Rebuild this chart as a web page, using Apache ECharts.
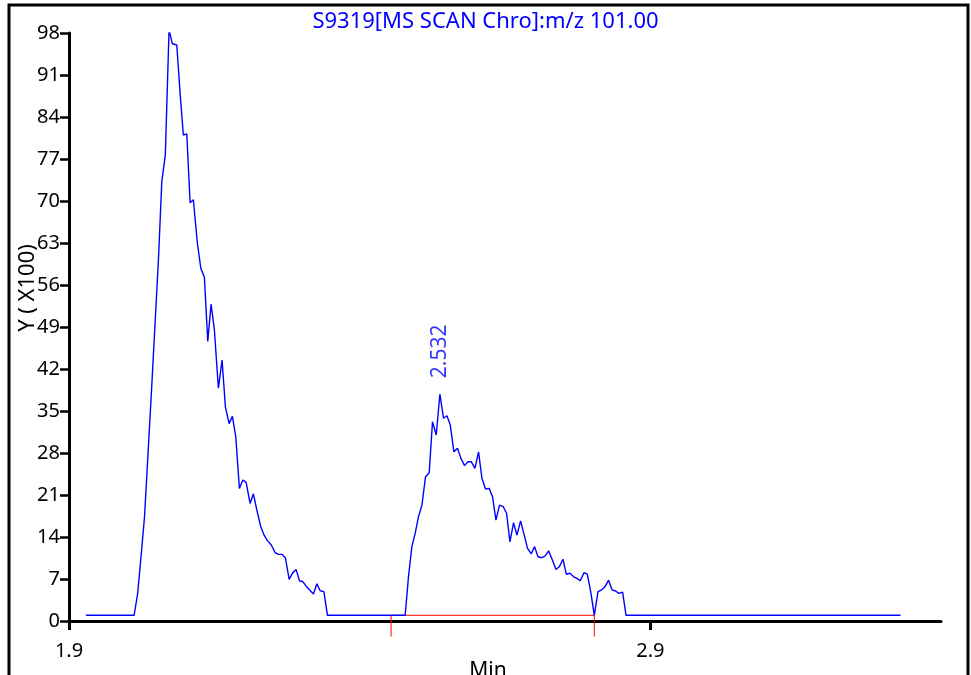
<!DOCTYPE html>
<html>
<head>
<meta charset="utf-8">
<script src="https://cdn.jsdelivr.net/npm/echarts@6/dist/echarts.min.js"></script>
<style>
html,body{margin:0;padding:0;background:#fff;}
#chart{width:971px;height:675px;}
</style>
</head>
<body>
<div id="chart"></div>
<script>
// ---- data (time in min, intensity in x100 units) ----
const scanTimes = [
  1.929, 2.012, 2.018, 2.024, 2.030, 2.036, 2.042, 2.048, 2.054, 2.0596,
  2.0657, 2.0721, 2.0778, 2.0854, 2.0911, 2.0967, 2.1026, 2.1083, 2.1139, 2.1208,
  2.1267, 2.1329, 2.1387, 2.1444, 2.1501, 2.1570, 2.1633, 2.1690, 2.1754, 2.1811,
  2.1869, 2.1931, 2.1990, 2.2047, 2.2115, 2.2172, 2.2231, 2.2299, 2.2356, 2.2413,
  2.2477, 2.2546, 2.2602, 2.2666, 2.2723, 2.2787, 2.2850, 2.2907, 2.2964, 2.3022,
  2.3079, 2.3136, 2.3205, 2.3263, 2.3320, 2.3384, 2.3446,
  2.4783, 2.4840, 2.4898, 2.4955, 2.5012, 2.5071, 2.5133, 2.5196, 2.5253, 2.5317,
  2.5380, 2.5442, 2.5501, 2.5558, 2.5621, 2.5683, 2.5742, 2.5804, 2.5862, 2.5919,
  2.5983, 2.6045, 2.6103, 2.6165, 2.6229, 2.6286, 2.6344, 2.6406, 2.6470, 2.6527,
  2.6585, 2.6647, 2.6706, 2.6768, 2.6831, 2.6888, 2.6952, 2.7009, 2.7067, 2.7129,
  2.7188, 2.7250, 2.7313, 2.7377, 2.7434, 2.7497, 2.7554, 2.7618, 2.7675, 2.7738,
  2.7795, 2.7859, 2.7916, 2.7979, 2.8036, 2.8100, 2.8162, 2.8220, 2.8282, 2.8341,
  2.8403, 2.8461, 2.8523, 2.8582, 3.3303
];
const intensities = [
  0.95, 0.95, 4.5, 10.8, 17.5, 28, 38.5, 49.5, 60.5, 73.2,
  77.7, 98.5, 96.2, 96.0, 88.0, 81.0, 81.2, 69.7, 70.2, 63.0,
  58.8, 57.3, 46.6, 52.8, 48.5, 38.8, 43.5, 35.7, 32.9, 34.1,
  30.7, 22.1, 23.5, 23.1, 19.6, 21.2, 18.5, 15.7, 14.3, 13.4,
  12.7, 11.4, 11.1, 11.1, 10.5, 6.95, 8.05, 8.6, 6.7, 6.55,
  5.8, 5.2, 4.5, 6.2, 5.05, 4.9, 0.95,
  0.95, 7.4, 12.4, 14.6, 17.4, 19.3, 24.05, 24.7, 33.2, 31.0,
  37.8, 33.8, 34.2, 32.7, 28.2, 28.8, 27.1, 25.9, 26.55, 26.55,
  25.45, 28.2, 23.8, 22.0, 22.1, 20.7, 16.8, 19.3, 19.05, 17.95,
  13.2, 16.4, 14.3, 16.7, 14.3, 12.1, 11.2, 12.4, 10.7, 10.55,
  10.8, 11.7, 10.2, 8.6, 9.05, 10.3, 7.8, 7.95, 7.4, 7.1,
  6.7, 8.05, 7.8, 4.6, 0.95, 4.9, 5.2, 5.7, 6.8, 5.2,
  5.0, 4.6, 4.8, 0.95, 0.95
];
// integration baseline of the labelled peak (start / end times and level)
const baselineTimes = [2.454, 2.8036];
const baselineLevel = 0.95;
const baselineTickDepth = -2.6;
// labelled peak
const peakLabelText = '2.532';
const peakWindow = [2.454, 2.8036];
// axis ticks
const xTickValues = [1.9, 2.9];
const yMin = 0, yMax = 98, yStep = 7;
const xMin = 1.9, xMax = 3.4;

const titleText = 'S9319[MS SCAN Chro]:m/z 101.00';
const yName = 'Y ( X100)';
const xName = 'Min';

// ---- build ----
const traceData = scanTimes.map((t, i) => [t, intensities[i]]);
const baselineData = [
  [baselineTimes[0], baselineTickDepth],
  [baselineTimes[0], baselineLevel],
  [baselineTimes[1], baselineLevel],
  [baselineTimes[1], baselineTickDepth]
];
let apex = null;
traceData.forEach(p => {
  if (p[0] >= peakWindow[0] && p[0] <= peakWindow[1]) {
    if (!apex || p[1] > apex[1]) apex = p;
  }
});

const FONT = 'Noto Sans';
const chart = echarts.init(document.getElementById('chart'), null, {renderer: 'canvas'});
chart.setOption({
  animation: false,
  backgroundColor: '#ffffff',
  title: {
    text: titleText,
    left: 'center',
    top: 6,
    padding: [5, 0, 5, 7],
    textStyle: {color: '#0000ff', fontSize: 22, fontWeight: 'normal', fontFamily: FONT}
  },
  grid: {left: 69, right: 30, top: 33, bottom: 54, containLabel: false, outerBoundsMode: 'none'},
  xAxis: {
    type: 'value',
    min: xMin,
    max: xMax,
    name: xName,
    nameLocation: 'middle',
    nameGap: 40,
    nameMoveOverlap: false,
    nameTextStyle: {color: '#000', fontSize: 21, fontFamily: FONT, padding: [0, 34, 0, 0]},
    axisLine: {show: true, onZero: false, lineStyle: {color: '#000', width: 3}},
    axisTick: {show: true, length: 9, customValues: xTickValues, lineStyle: {color: '#000', width: 3}},
    axisLabel: {
      customValues: xTickValues,
      color: '#000', fontSize: 20, fontFamily: FONT, margin: 20,
      formatter: v => v.toFixed(1)
    },
    splitLine: {show: false}
  },
  yAxis: {
    type: 'value',
    min: yMin,
    max: yMax,
    interval: yStep,
    axisLine: {show: true, lineStyle: {color: '#000', width: 3}},
    axisTick: {show: true, length: 9, lineStyle: {color: '#000', width: 2.5}},
    axisLabel: {color: '#000', fontSize: 20, fontFamily: FONT, margin: 9},
    splitLine: {show: false}
  },
  graphic: [
    {
      type: 'rect', z: 100, silent: true,
      shape: {x: 9, y: 5, width: 959, height: 700},
      style: {fill: 'none', stroke: '#000', lineWidth: 3}
    },
    {
      type: 'text', z: 100, x: 28, y: 288, rotation: Math.PI / 2,
      style: {text: yName, align: 'center', verticalAlign: 'middle', fill: '#000', font: '22px "Noto Sans"'}
    }
  ],
  series: [
    {
      type: 'line',
      data: baselineData,
      showSymbol: false,
      clip: false,
      lineStyle: {color: '#ff0000', width: 1},
      z: 1
    },
    {
      type: 'line',
      data: traceData,
      showSymbol: false,
      lineStyle: {color: '#0000ff', width: 1.4},
      z: 2
    },
    {
      type: 'scatter',
      data: [apex],
      symbolSize: 0,
      label: {
        show: true,
        formatter: peakLabelText,
        position: 'top',
        distance: 16,
        rotate: 90,
        align: 'left',
        verticalAlign: 'middle',
        color: '#0000ff',
        fontSize: 21,
        fontFamily: FONT
      },
      z: 3
    }
  ]
});
</script>
</body>
</html>
